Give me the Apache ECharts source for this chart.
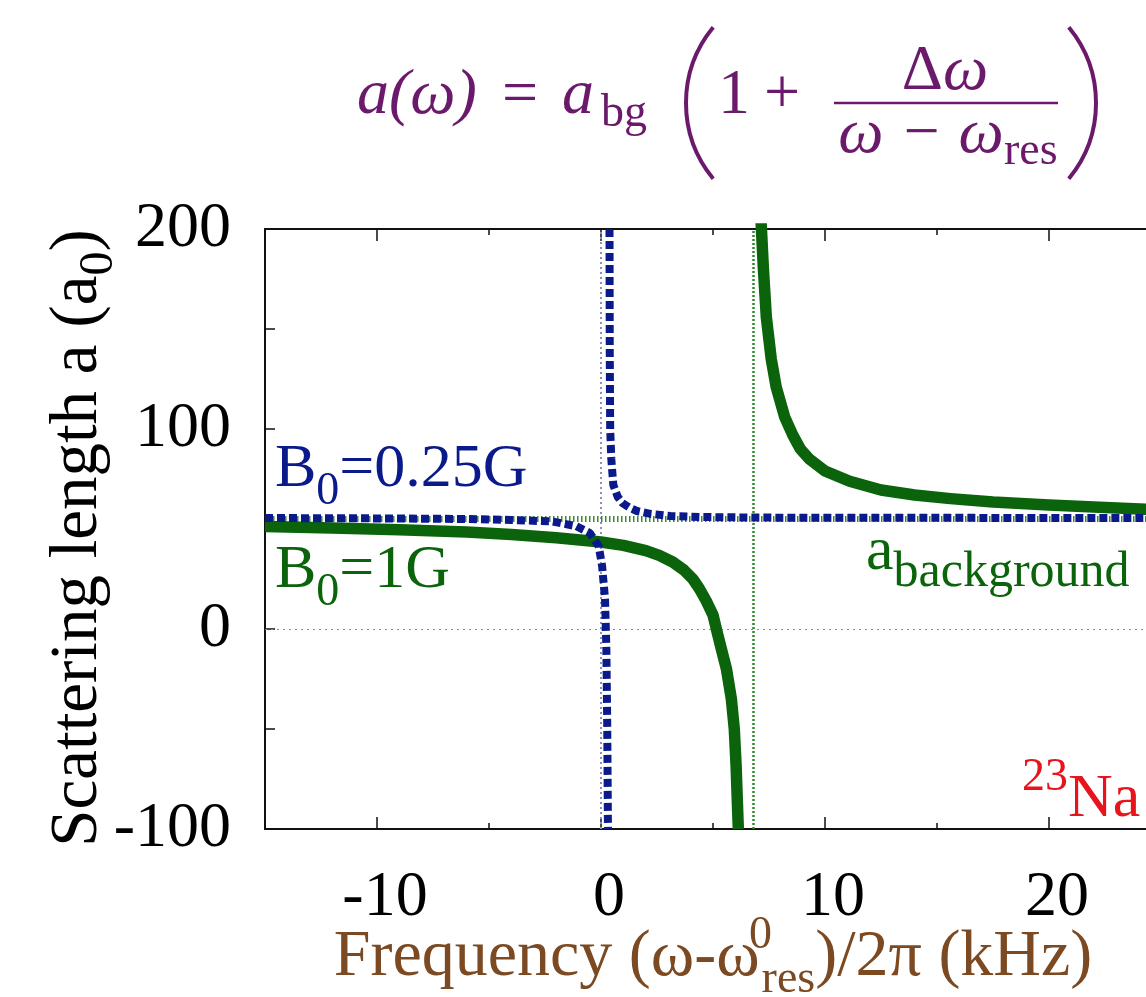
<!DOCTYPE html>
<html>
<head>
<meta charset="UTF-8">
<title>Scattering length near a Feshbach resonance</title>
<script src="https://cdn.jsdelivr.net/npm/echarts@6/dist/echarts.min.js"></script>
<style>
  html, body { margin: 0; padding: 0; background: #fff; overflow: hidden; }
  #main { width: 1146px; height: 997px; }
</style>
</head>
<body>
<div id="main"></div>
<script>
  // values: x in kHz, a in units of a0
  // B0 = 1G (green), branch below and above the resonance
  var greenLowX = [-15, -12, -9, -6, -4, -2, 0, 1, 2, 2.6, 3.2, 3.7, 4.1, 4.4, 4.7, 5.0, 5.15, 5.35, 5.6, 5.82, 5.95, 6.03, 6.13];
  var greenLowA = [51.2, 50.5, 49.6, 48.5, 47.3, 45.6, 43.5, 41.8, 39.2, 36.8, 33.5, 29.5, 25, 20, 14, 7, 0, -9, -20, -35, -50, -68, -100];
  var greenHighX = [7.14, 7.25, 7.38, 7.6, 7.82, 8.2, 8.56, 8.9, 9.3, 10, 11.1, 12.5, 14, 15.6, 17.5, 20, 22, 25];
  var greenHighA = [205, 180, 156, 135, 121, 106, 97, 90, 85, 79, 73.9, 69.5, 67, 65.2, 63.5, 62, 61, 59.6];
  // B0 = 0.25G (blue, dashed)
  var blueLowX = [-15, -10, -6, -4, -2.2, -1.1, -0.5, -0.1, 0.05, 0.18, 0.24, 0.28, 0.31];
  var blueLowA = [55.5, 55.3, 55, 54.5, 53.8, 51.4, 48, 41.4, 31.4, 15, -10, -50, -100];
  var blueHighX = [0.38, 0.39, 0.41, 0.46, 0.55, 0.75, 0.95, 1.3, 1.6, 2.2, 3.1, 4.5, 7, 12, 25];
  var blueHighA = [200, 140, 100, 85, 72, 66, 63, 60.5, 59, 57.6, 56.5, 56, 55.7, 55.6, 55.5];
  // reference lines
  var resonanceX = [0, 6.8];
  var backgroundA = 55;
  var majorTicksX = [-10, 0, 10, 20];

  var serif = "'Liberation Serif', 'DejaVu Serif', serif";
  var green = '#0b640b', blue = '#0b1a8b', brown = '#7b4a22', purple = '#6b1a6b', red = '#e8141c';

  function pairs(xs, ys) {
    return xs.map(function (x, i) { return [x, ys[i]]; });
  }

  var tickStyle = { color: '#111', width: 1.5 };
  function xAx(pos, main) {
    return {
      type: 'value', min: -15, max: 25, interval: 5, position: pos,
      axisLine: { show: main, onZero: false, lineStyle: { color: '#111', width: 2 } },
      axisTick: { inside: true, length: main ? 6 : 12, lineStyle: tickStyle, customValues: main ? undefined : majorTicksX },
      axisLabel: { show: false },
      splitLine: { show: false }
    };
  }

  var xAxes = [xAx('bottom', true), xAx('bottom', false), xAx('top', true), xAx('top', false)];
  xAxes[0].axisLabel = {
    show: true, fontFamily: serif, fontSize: 64, color: '#000', margin: 37, padding: [0, 0, 0, 16],
    formatter: function (v) { return v % 10 === 0 ? String(v) : ''; }
  };
  xAxes[0].name = 'Frequency (ω-ω{sup|0}{sub|res})/2π (kHz)';
  xAxes[0].nameLocation = 'middle';
  xAxes[0].nameGap = 84;
  xAxes[0].nameMoveOverlap = false;
  xAxes[0].nameTextStyle = {
    fontFamily: serif, fontSize: 66, color: brown, lineHeight: 90,
    rich: {
      sup: { fontFamily: serif, fontSize: 46, lineHeight: 46, color: brown, verticalAlign: 'top', width: 2 },
      sub: { fontFamily: serif, fontSize: 46, lineHeight: 46, color: brown, verticalAlign: 'bottom' }
    }
  };

  function txt(x, y, text, size, color, extra) {
    var st = { text: text, fontFamily: serif, fontSize: size, fill: color, verticalAlign: 'middle' };
    for (var k in extra) st[k] = extra[k];
    return { type: 'text', x: x, y: y, z: 20, style: st };
  }

  var fy = 5; // formula vertical shift
  var chart = echarts.init(document.getElementById('main'));
  chart.setOption({
    animation: false,
    grid: { left: 265, top: 229, width: 896, height: 600, outerBoundsMode: 'none', containLabel: false,
      show: true, borderColor: '#111', borderWidth: 2 },
    xAxis: xAxes,
    yAxis: {
      type: 'value', min: -100, max: 200, interval: 50,
      axisLine: { show: true, onZero: false, lineStyle: { color: '#111', width: 2 } },
      axisTick: { inside: true, length: 10, lineStyle: tickStyle },
      axisLabel: {
        fontFamily: serif, fontSize: 64, color: '#000', margin: 34,
        formatter: function (v) { return v % 100 === 0 ? String(v) : ''; }
      },
      splitLine: { show: false },
      name: 'Scattering length a (a{sub|0})',
      nameLocation: 'middle',
      nameGap: 142,
      nameMoveOverlap: false,
      nameTextStyle: {
        fontFamily: serif, fontSize: 67, color: '#000', lineHeight: 90, padding: [0, 18, 0, 0],
        rich: { sub: { fontFamily: serif, fontSize: 48, lineHeight: 48, color: '#000', verticalAlign: 'bottom' } }
      }
    },
    series: [
      {
        type: 'line', data: [], silent: true,
        markLine: {
          silent: true, symbol: ['none', 'none'], label: { show: false },
          data: [
            { xAxis: resonanceX[0], lineStyle: { color: '#8890c0', width: 2, type: [2, 3] } },
            { xAxis: resonanceX[1], lineStyle: { color: '#2f8a2f', width: 2.5, type: [2, 2] } },
            { yAxis: 0, lineStyle: { color: '#888', width: 1.2, type: [2, 4] } },
            { yAxis: backgroundA, lineStyle: { color: '#3a8a2a', width: 6, type: [1.5, 2.5] } }
          ]
        }
      },
      { name: 'B0=1G', type: 'line', data: pairs(greenLowX, greenLowA), showSymbol: false, z: 6,
        lineStyle: { color: green, width: 11.5, join: 'round' } },
      { name: 'B0=1G', type: 'line', data: pairs(greenHighX, greenHighA), showSymbol: false, z: 6,
        lineStyle: { color: green, width: 11.5, join: 'round' } },
      { name: 'B0=0.25G', type: 'line', data: pairs(blueLowX, blueLowA), showSymbol: false, z: 8,
        lineStyle: { color: blue, width: 8, type: [8, 4], cap: 'butt' } },
      { name: 'B0=0.25G', type: 'line', data: pairs(blueHighX, blueHighA), showSymbol: false, z: 8,
        lineStyle: { color: blue, width: 8, type: [8, 4], cap: 'butt' } }
    ],
    graphic: [
      // formula a(w) = a_bg (1 + dw / (w - w_res))
      txt(357, 113 - 22 + fy, 'a(ω)', 64, purple, { fontStyle: 'italic' }),
      txt(502, 113 - 22 + fy, '=', 64, purple),
      txt(562, 113 - 22 + fy, 'a', 64, purple, { fontStyle: 'italic' }),
      txt(601, 125 - 16 + fy, 'bg', 46, purple),
      { type: 'arc', shape: { cx: 805, cy: 98 + fy, r: 119, startAngle: Math.PI - 0.69, endAngle: Math.PI + 0.69 },
        style: { stroke: purple, lineWidth: 4, fill: null } },
      txt(718, 113 - 22 + fy, '1', 64, purple),
      txt(764, 113 - 22 + fy, '+', 64, purple),
      { type: 'line', shape: { x1: 834, y1: 98 + fy, x2: 1058, y2: 98 + fy }, style: { stroke: purple, lineWidth: 2.5 } },
      txt(945, 89 - 22 + fy, 'Δ{i|ω}', 64, purple, { align: 'center',
        rich: { i: { fontFamily: serif, fontSize: 64, fontStyle: 'italic', fill: purple } } }),
      txt(921, 152 - 22 + fy, 'ω − ω', 64, purple, { align: 'center', fontStyle: 'italic' }),
      txt(1004, 163 - 16 + fy, 'res', 46, purple),
      { type: 'arc', shape: { cx: 977, cy: 98 + fy, r: 119, startAngle: -0.69, endAngle: 0.69 },
        style: { stroke: purple, lineWidth: 4, fill: null } },
      // curve labels
      { type: 'text', x: 275, y: 425, z: 20, style: {
        text: 'B{s|0}=0.25G', fontFamily: serif, fontSize: 62, lineHeight: 90, fill: blue,
        rich: { s: { fontFamily: serif, fontSize: 46, lineHeight: 46, verticalAlign: 'bottom', fill: blue } } } },
      { type: 'text', x: 275, y: 526, z: 20, style: {
        text: 'B{s|0}=1G', fontFamily: serif, fontSize: 62, lineHeight: 90, fill: green,
        rich: { s: { fontFamily: serif, fontSize: 46, lineHeight: 46, verticalAlign: 'bottom', fill: green } } } },
      { type: 'text', x: 866, y: 508, z: 20, style: {
        text: 'a{s|background}', fontFamily: serif, fontSize: 62, lineHeight: 90, fill: green,
        rich: { s: { fontFamily: serif, fontSize: 50, lineHeight: 50, verticalAlign: 'bottom', fill: green } } } },
      { type: 'text', x: 1022, y: 755, z: 20, style: {
        text: '{s|23}Na', fontFamily: serif, fontSize: 62, lineHeight: 90, fill: red,
        rich: { s: { fontFamily: serif, fontSize: 46, lineHeight: 46, verticalAlign: 'top', fill: red } } } }
    ]
  });
</script>
</body>
</html>
